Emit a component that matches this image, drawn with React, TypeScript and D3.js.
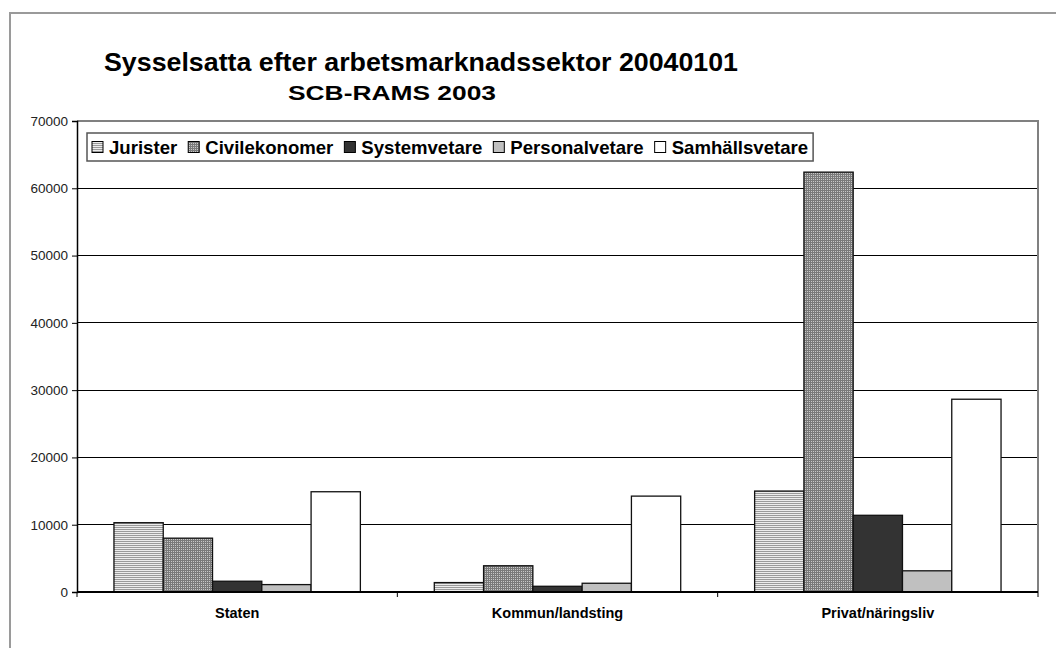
import React, { useRef, useEffect } from 'react'
import * as d3 from 'd3'

const categories = ['Staten', 'Kommun/landsting', 'Privat/näringsliv']
const seriesNames = ['Jurister', 'Civilekonomer', 'Systemvetare', 'Personalvetare', 'Samhällsvetare']
const jurister = [10300, 1400, 15000]
const civilekonomer = [8000, 3900, 62400]
const systemvetare = [1600, 850, 11400]
const personalvetare = [1100, 1300, 3150]
const samhallsvetare = [14900, 14250, 28650]
const yTicks = [0, 10000, 20000, 30000, 40000, 50000, 60000, 70000]

const seriesValues = [jurister, civilekonomer, systemvetare, personalvetare, samhallsvetare]
const fills = ['url(#pJur)', 'url(#pCiv)', '#333333', '#c0c0c0', '#ffffff']

function App() {
  const svgRef = useRef<SVGSVGElement>(null)

  useEffect(() => {
    const width = 1056
    const height = 648
    const left = 77, right = 1038, top = 121, bottom = 592
    const font = 'Arial, "Liberation Sans", sans-serif'

    const svg = d3.select(svgRef.current)
    svg.selectAll('*').remove()
    svg.attr('width', width).attr('height', height)
      .style('position', 'absolute').style('left', 0).style('top', 0)
      .style('font-family', font)

    // patterns
    const defs = svg.append('defs')
    const pj = defs.append('pattern').attr('id', 'pJur')
      .attr('patternUnits', 'userSpaceOnUse').attr('width', 4).attr('height', 2)
    pj.append('rect').attr('width', 4).attr('height', 2).attr('fill', '#ececec')
    pj.append('rect').attr('y', 1).attr('width', 4).attr('height', 1).attr('fill', '#9a9a9a')
    const pc = defs.append('pattern').attr('id', 'pCiv')
      .attr('patternUnits', 'userSpaceOnUse').attr('width', 2).attr('height', 2)
    pc.append('rect').attr('width', 2).attr('height', 2).attr('fill', '#c8c8c8')
    pc.append('rect').attr('width', 2).attr('height', 1).attr('fill', '#7a7a7a')
    pc.append('rect').attr('width', 1).attr('height', 2).attr('fill', '#7a7a7a')

    // outer frame
    svg.append('rect').attr('x', 10).attr('y', 13).attr('width', 1080).attr('height', 700)
      .attr('fill', 'white').attr('stroke', '#9a9a9a').attr('stroke-width', 2)

    // titles
    svg.append('text').attr('x', 104).attr('y', 71).attr('font-size', 25).attr('font-weight', 'bold')
      .attr('textLength', 634).attr('lengthAdjust', 'spacingAndGlyphs')
      .text('Sysselsatta efter arbetsmarknadssektor 20040101')
    svg.append('text').attr('x', 288).attr('y', 100).attr('font-size', 21).attr('font-weight', 'bold')
      .attr('textLength', 208).attr('lengthAdjust', 'spacingAndGlyphs')
      .text('SCB-RAMS 2003')

    const x0 = d3.scaleBand().domain(categories).range([left, right]).paddingInner(0).paddingOuter(0)
    const x1 = d3.scaleBand().domain(seriesNames).range([0, x0.bandwidth()])
      .paddingInner(0).paddingOuter(0.75)
    const y = d3.scaleLinear().domain([0, 70000]).range([bottom, top])

    // gridlines
    svg.append('g').selectAll('line').data(yTicks.filter(t => t > 0 && t < 70000)).join('line')
      .attr('x1', left).attr('x2', right).attr('y1', d => y(d)).attr('y2', d => y(d))
      .attr('stroke', '#000').attr('stroke-width', 1).attr('shape-rendering', 'crispEdges')

    // plot border top/right
    svg.append('path').attr('d', `M${left},${y(70000)}H${right}V${bottom}`)
      .attr('fill', 'none').attr('stroke', '#808080').attr('stroke-width', 2)

    // bars
    seriesValues.forEach((vals, si) => {
      svg.append('g').selectAll('rect').data(vals).join('rect')
        .attr('x', (d, i) => x0(categories[i])! + x1(seriesNames[si])!)
        .attr('y', d => y(d))
        .attr('width', x1.bandwidth())
        .attr('height', d => bottom - y(d))
        .attr('fill', fills[si])
        .attr('stroke', '#111').attr('stroke-width', 1.3)
    })

    // y axis
    const ya = svg.append('g').attr('transform', `translate(${left},0)`)
      .call(d3.axisLeft(y).tickValues(yTicks).tickSize(5).tickPadding(4).tickFormat(d3.format('d')))
    ya.select('.domain').attr('stroke', '#000').attr('stroke-width', 1.5)
    ya.selectAll('text').attr('font-size', 13.5).attr('fill', '#222').attr('font-family', font)

    // x axis
    svg.append('line').attr('x1', left).attr('x2', right).attr('y1', bottom).attr('y2', bottom)
      .attr('stroke', '#000').attr('stroke-width', 2)
    const bounds = [...categories.map(c => x0(c)!), right]
    svg.append('g').selectAll('line').data(bounds).join('line')
      .attr('x1', d => d).attr('x2', d => d).attr('y1', bottom).attr('y2', bottom + 5)
      .attr('stroke', '#000')
    svg.append('g').selectAll('text').data(categories).join('text')
      .attr('x', d => x0(d)! + x0.bandwidth() / 2).attr('y', 618)
      .attr('text-anchor', 'middle').attr('font-size', 14.5).attr('font-weight', 'bold')
      .text(d => d)

    // legend
    const lg = svg.append('g')
    const box = lg.append('rect').attr('x', 87).attr('y', 133).attr('height', 28)
      .attr('fill', 'white').attr('stroke', '#555').attr('stroke-width', 1.5)
    let cx = 92
    seriesNames.forEach((name, i) => {
      lg.append('rect').attr('x', cx).attr('y', 141.5).attr('width', 11).attr('height', 11)
        .attr('fill', fills[i]).attr('stroke', '#000')
      const t = lg.append('text').attr('x', cx + 17).attr('y', 154)
        .attr('font-size', 18.6).attr('font-weight', 'bold').text(name)
      const w = (t.node() as SVGTextElement).getComputedTextLength()
      cx = cx + 17 + w + 11
    })
    box.attr('width', cx - 87 - 6)
  }, [])

  return <svg ref={svgRef}></svg>
}

export default App
